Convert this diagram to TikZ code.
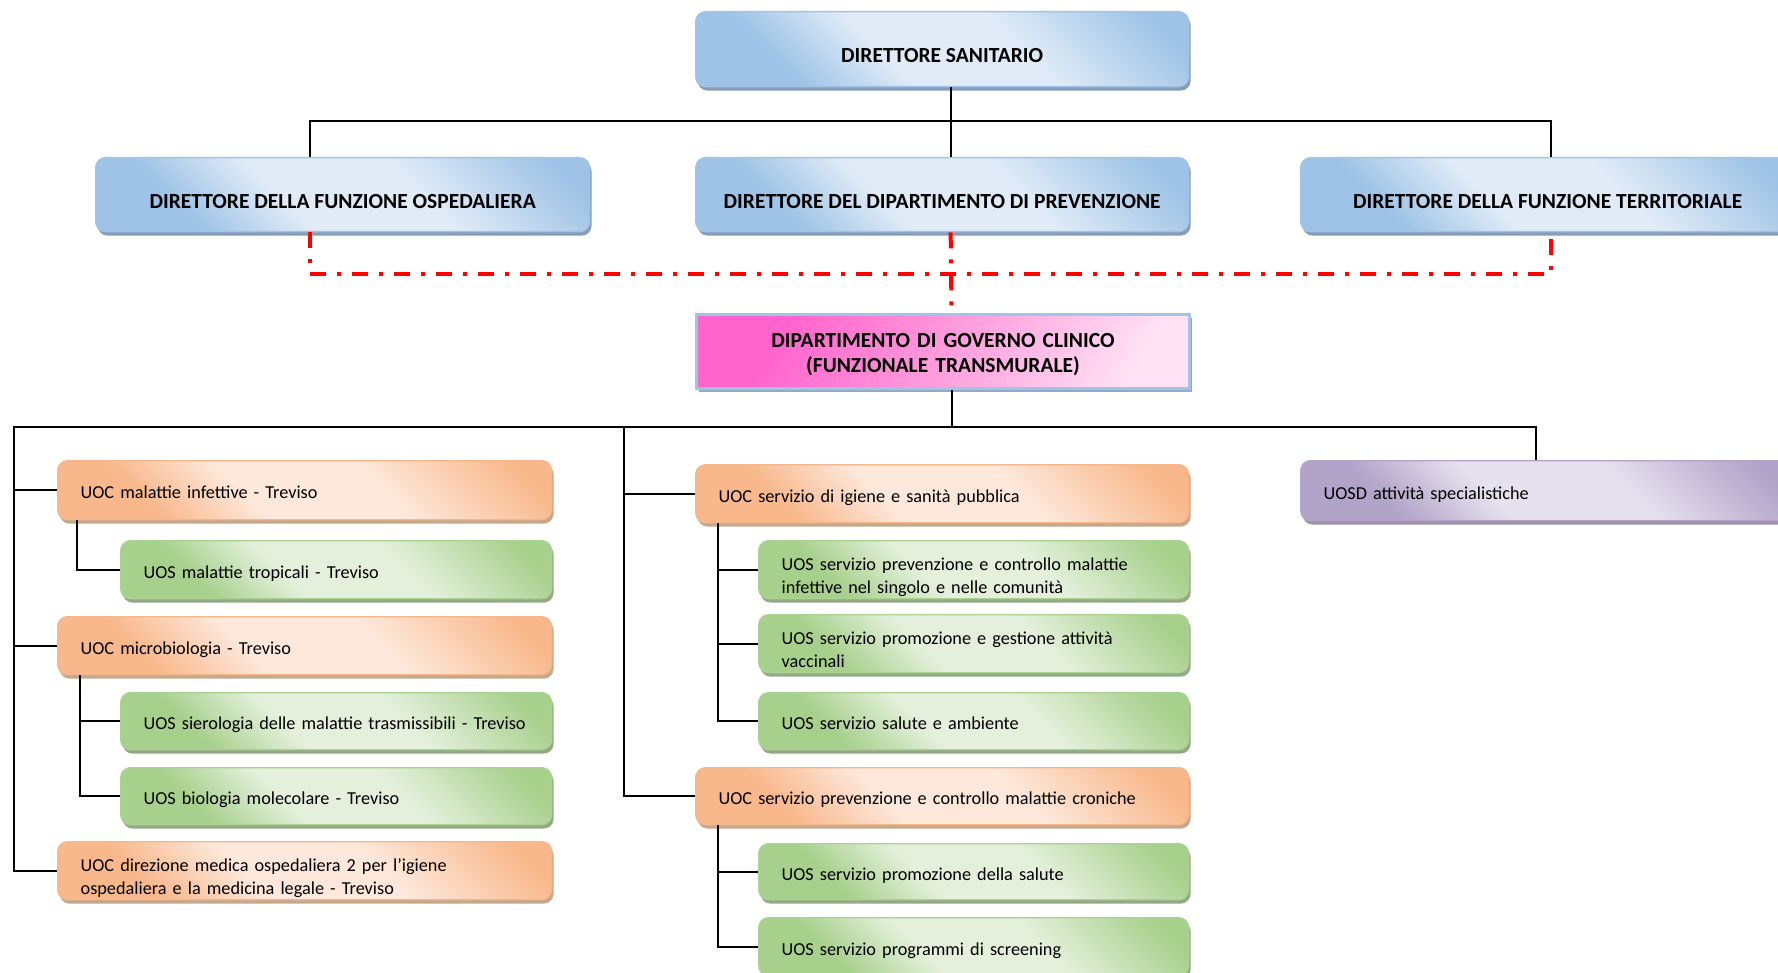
\documentclass[tikz,border=0pt]{standalone}
\usepackage{fontspec}
\setmainfont{Carlito}
\usetikzlibrary{shadows}

\definecolor{bluD}{RGB}{158,195,230}
\definecolor{bluL}{RGB}{224,235,247}
\definecolor{bluB}{RGB}{160,196,230}
\definecolor{bluS}{RGB}{135,156,184}
\definecolor{oraD}{RGB}{248,184,140}
\definecolor{oraL}{RGB}{253,232,219}
\definecolor{oraB}{RGB}{246,182,138}
\definecolor{oraS}{RGB}{196,168,140}
\definecolor{greD}{RGB}{168,208,141}
\definecolor{greL}{RGB}{228,240,220}
\definecolor{greB}{RGB}{170,210,144}
\definecolor{greS}{RGB}{148,168,134}
\definecolor{purD}{RGB}{178,163,200}
\definecolor{purL}{RGB}{230,225,238}
\definecolor{purB}{RGB}{180,164,200}
\definecolor{purS}{RGB}{155,146,170}
\definecolor{pinkA}{RGB}{255,100,204}
\definecolor{pinkM}{RGB}{255,160,222}
\definecolor{pinkB}{RGB}{255,226,244}
\definecolor{pinkS}{RGB}{145,170,198}

\pgfdeclarehorizontalshading{shBlue}{100bp}{color(0bp)=(bluD); color(28bp)=(bluD); color(42bp)=(bluL); color(60bp)=(bluL); color(80bp)=(bluD); color(100bp)=(bluD)}
\pgfdeclarehorizontalshading{shOra}{100bp}{color(0bp)=(oraD); color(28bp)=(oraD); color(42bp)=(oraL); color(60bp)=(oraL); color(80bp)=(oraD); color(100bp)=(oraD)}
\pgfdeclarehorizontalshading{shGre}{100bp}{color(0bp)=(greD); color(28bp)=(greD); color(42bp)=(greL); color(60bp)=(greL); color(80bp)=(greD); color(100bp)=(greD)}
\pgfdeclarehorizontalshading{shPur}{100bp}{color(0bp)=(purD); color(28bp)=(purD); color(42bp)=(purL); color(60bp)=(purL); color(80bp)=(purD); color(100bp)=(purD)}
\pgfdeclarehorizontalshading{shPink}{100bp}{color(0bp)=(pinkA); color(28bp)=(pinkA); color(52bp)=(pinkM); color(76bp)=(pinkB); color(100bp)=(pinkB)}

\newcommand{\regf}{\fontsize{18.25}{22.7}\selectfont}
\newcommand{\boldf}{\fontsize{21.5}{25}\selectfont\bfseries}

\tikzset{
  orgbox/.style={draw, line width=1.3pt, rounded corners=10pt, inner ysep=0pt, anchor=north west, shade},
  boxshadow/.style={general shadow={shadow xshift=2pt, shadow yshift=-4pt, fill=#1}},
  onel/.style={text height=17.6pt, text depth=0.9pt},
  twol/.style={text height=17.6pt, text depth=15.7pt},
  bluebox/.style={orgbox, draw=bluB, shading=shBlue, shading angle=45, boxshadow=bluS, font=\boldf, align=center, inner xsep=0pt, text height=28.5pt, text depth=1pt},
  uocbox/.style={orgbox, draw=oraB, shading=shOra, shading angle=45, boxshadow=oraS, font=\regf, align=left, inner xsep=23pt},
  uosbox/.style={orgbox, draw=greB, shading=shGre, shading angle=45, boxshadow=greS, font=\regf, align=left, inner xsep=23pt},
  uosdbox/.style={orgbox, draw=purB, shading=shPur, shading angle=45, boxshadow=purS, font=\regf, align=left, inner xsep=23pt},
  pinkbox/.style={draw=bluB, line width=3pt, anchor=north west, inner xsep=0pt, inner ysep=0pt, shade, shading=shPink, shading angle=-30, boxshadow=pinkS, font=\boldf, align=center},
  conn/.style={draw=black, line width=2pt},
  reddash/.style={draw=red, line width=4pt, dash pattern=on 16pt off 11pt on 4pt off 11pt}
}

\begin{document}
\begin{tikzpicture}[x=1pt,y=-1pt]
\clip (0,0) rectangle (1778,973);
\fill[white] (0,0) rectangle (1778,973);

% top levels
\node[bluebox, minimum width=493pt, minimum height=75pt] (ds) at (695,11) {DIRETTORE SANITARIO};
\node[bluebox, minimum width=494pt, minimum height=74pt] (fo) at (95,157) {DIRETTORE DELLA FUNZIONE OSPEDALIERA};
\node[bluebox, minimum width=493pt, minimum height=74pt] (fp) at (695,157) {DIRETTORE DEL DIPARTIMENTO DI PREVENZIONE};
\node[bluebox, minimum width=494pt, minimum height=74pt] (ft) at (1300,157) {DIRETTORE DELLA FUNZIONE TERRITORIALE};

\node[pinkbox, text width=493pt, minimum height=74pt, text height=19.5pt, text depth=28.3pt] (gc) at (695,313) {DIPARTIMENTO DI GOVERNO CLINICO\\(FUNZIONALE TRANSMURALE)};

% left column
\node[uocbox, onel, text width=448pt, minimum height=59pt] (mi) at (57,460) {UOC malattie infettive - Treviso};
\node[uosbox, onel, text width=385pt, minimum height=58pt] (mt) at (120,540) {UOS malattie tropicali - Treviso};
\node[uocbox, onel, text width=448pt, minimum height=58pt] (mb) at (57,616) {UOC microbiologia - Treviso};
\node[uosbox, onel, text width=385pt, minimum height=57pt] (sr) at (120,692) {\mbox{UOS sierologia delle malattie trasmissibili - Treviso}};
\node[uosbox, onel, text width=385pt, minimum height=57pt] (bm) at (120,767) {UOS biologia molecolare - Treviso};
\node[uocbox, twol, text width=448pt, minimum height=58pt] (dir) at (57,841) {UOC direzione medica ospedaliera 2 per l’igiene\\ospedaliera e la medicina legale - Treviso};

% middle column
\node[uocbox, onel, text width=447pt, minimum height=58pt] (ig) at (695,464) {UOC servizio di igiene e sanità pubblica};
\node[uosbox, twol, text width=384pt, minimum height=58pt] (g1) at (758,540) {UOS servizio prevenzione e controllo malattie\\infettive nel singolo e nelle comunità};
\node[uosbox, twol, text width=384pt, minimum height=58pt] (g2) at (758,614) {UOS servizio promozione e gestione attività\\vaccinali};
\node[uosbox, onel, text width=384pt, minimum height=57pt] (g3) at (758,692) {UOS servizio salute e ambiente};
\node[uocbox, onel, text width=447pt, minimum height=57pt] (cr) at (695,767) {UOC servizio prevenzione e controllo malattie croniche};
\node[uosbox, onel, text width=384pt, minimum height=56pt] (g4) at (758,843) {UOS servizio promozione della salute};
\node[uosbox, onel, text width=384pt, minimum height=58pt] (g5) at (758,917) {UOS servizio programmi di screening};

% right column
\node[uosdbox, onel, text width=448pt, minimum height=60pt] (pu) at (1300,460) {UOSD attività specialistiche};

% upper connectors
\coordinate (busL) at (310,121);
\coordinate (busR) at (1551,121);
\coordinate (redY) at (0,274);
\draw[conn] ([xshift=8.5pt]ds.south) -- ([xshift=8.5pt]fp.north);
\draw[conn] (busL |- fo.north) -- (busL) -- (busR) -- (busR |- ft.north);
\draw[reddash] (busL |- fo.south) -- (busL |- redY) -- (busR |- redY) -- (busR |- ft.south);
\draw[reddash] ([xshift=8.5pt]fp.south) -- ([xshift=8.5pt]gc.north);

% lower connectors
\coordinate (lowL) at (14,427);
\coordinate (lowM) at (624,427);
\coordinate (lowR) at (1536,427);
\draw[conn] ([xshift=8.5pt]gc.south) -- ([xshift=8.5pt]gc.south |- lowL);
\draw[conn] (dir.west) -- (lowL |- dir.west) -- (lowL) -- (lowR) -- (lowR |- pu.north);
\draw[conn] (lowL |- mi.west) -- (mi.west);
\draw[conn] (lowL |- mb.west) -- (mb.west);
\draw[conn] (lowM) |- (cr.west);
\draw[conn] (lowM |- ig.west) -- (ig.west);

\coordinate (subA) at (77,0);
\coordinate (subB) at (80,0);
\coordinate (subC) at (718,0);
\draw[conn] (subA |- mi.south) |- (mt.west);
\draw[conn] (subB |- mb.south) |- (bm.west);
\draw[conn] (subB |- sr.west) -- (sr.west);
\draw[conn] (subC |- ig.south) |- (g3.west);
\draw[conn] (subC |- g1.west) -- (g1.west);
\draw[conn] (subC |- g2.west) -- (g2.west);
\draw[conn] (subC |- cr.south) |- (g5.west);
\draw[conn] (subC |- g4.west) -- (g4.west);
\end{tikzpicture}
\end{document}
